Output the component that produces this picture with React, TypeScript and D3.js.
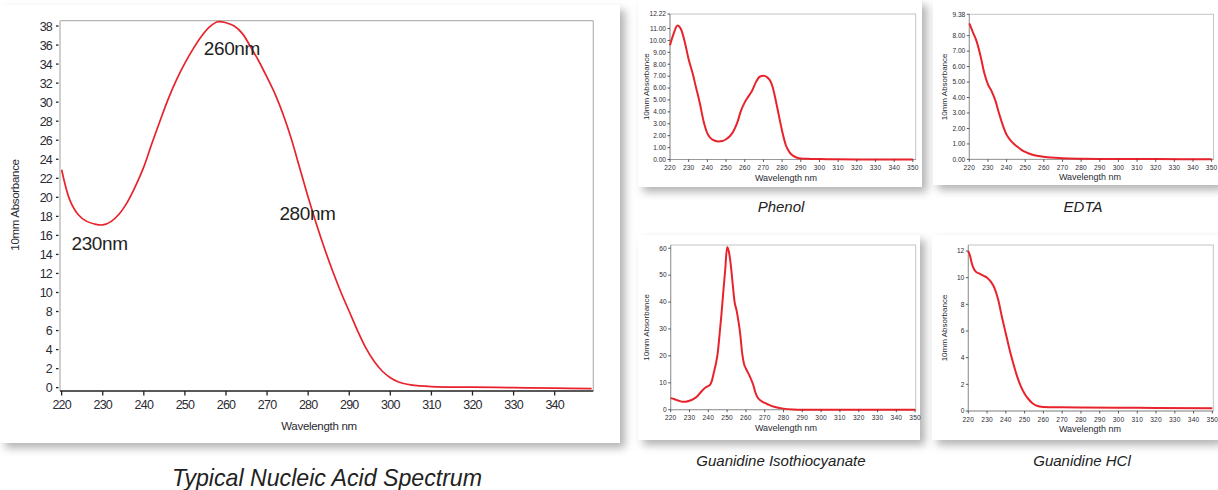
import React, { useEffect } from 'react'
import { scaleLinear, line, curveMonotoneX, curveCatmullRom, range } from 'd3'

const RED = '#e8232b'
const INK = '#2b2b33'

// Typical nucleic acid spectrum (big chart)
const mainWl = [220, 222, 224, 226, 228, 230, 232, 234, 236, 238, 240, 242, 244, 246, 248, 250, 252, 254, 256, 258, 260, 262, 264, 266, 268, 270, 272, 274, 276, 278, 280, 282, 284, 286, 288, 290, 292, 294, 296, 298, 300, 302, 305, 310, 320, 330, 340, 349]
const mainAbs = [22.9, 19.7, 18.2, 17.5, 17.2, 17.1, 17.45, 18.25, 19.5, 21.2, 23.2, 25.7, 28.1, 30.4, 32.4, 34.1, 35.6, 36.9, 37.9, 38.45, 38.35, 38.0, 37.2, 35.8, 34.3, 32.6, 30.8, 28.6, 26.0, 23.0, 20.0, 17.2, 14.6, 12.2, 10.0, 8.0, 6.0, 4.2, 2.8, 1.75, 1.05, 0.6, 0.3, 0.12, 0.05, 0.0, -0.05, -0.1]
const mainXTicks = range(220, 341, 10)
const mainYTicks = range(0, 39, 2)
const mainNotes = [
  { label: '260nm', wl: 254.6, abs: 35.0 },
  { label: '230nm', wl: 222.4, abs: 14.5 },
  { label: '280nm', wl: 273.0, abs: 17.6 },
]

// Phenol
const phenolWl = [220, 222, 224, 226, 228, 230, 232, 234, 236, 238, 240, 242, 244, 246, 248, 250, 252, 254, 256, 258, 260, 262, 264, 266, 268, 270, 272, 274, 275, 276, 278, 280, 282, 284, 286, 288, 290, 295, 300, 310, 320, 350]
const phenolAbs = [9.6, 10.6, 11.25, 10.9, 9.8, 8.4, 7.3, 6.0, 4.7, 3.2, 2.2, 1.75, 1.58, 1.52, 1.55, 1.7, 1.95, 2.4, 3.1, 4.1, 4.8, 5.3, 5.8, 6.5, 6.95, 7.03, 6.9, 6.5, 6.05, 5.4, 3.9, 2.4, 1.2, 0.6, 0.3, 0.15, 0.08, 0.05, 0.04, 0.02, 0.01, 0.0]
const phenolYTicks = [0, 1, 2, 3, 4, 5, 6, 7, 8, 9, 10, 11, 12.22]

// EDTA
const edtaWl = [220, 222, 224, 226, 228, 230, 232, 234, 236, 238, 240, 242, 244, 246, 248, 250, 252, 255, 258, 262, 266, 270, 280, 290, 300, 320, 350]
const edtaAbs = [8.8, 8.2, 7.6, 6.7, 5.6, 4.85, 4.4, 3.8, 2.95, 2.2, 1.6, 1.25, 1.0, 0.8, 0.62, 0.48, 0.38, 0.27, 0.2, 0.14, 0.1, 0.07, 0.04, 0.03, 0.03, 0.02, 0.01]
const edtaYTicks = [0, 1, 2, 3, 4, 5, 6, 7, 8, 9.38]

// Guanidine Isothiocyanate
const gitcWl = [220, 222, 224, 226, 228, 230, 232, 234, 236, 238, 240, 241, 242, 243, 244, 245, 246, 247, 248, 249, 250, 251, 252, 253, 254, 255, 256, 257, 258, 259, 260, 262, 264, 265, 266, 268, 270, 272, 275, 280, 285, 290, 350]
const gitcAbs = [4.3, 3.9, 3.4, 3.0, 3.0, 3.3, 3.9, 4.9, 6.5, 8.0, 8.8, 9.3, 11.0, 14.0, 17.0, 21.0, 28.0, 35.5, 44.0, 52.0, 60.5, 58.5, 53.5, 46.5, 40.0, 37.0, 33.0, 28.0, 21.0, 17.0, 15.3, 12.5, 9.0, 6.5, 4.8, 3.3, 2.5, 1.9, 1.1, 0.4, 0.1, 0.0, 0.0]
const gitcYTicks = range(0, 61, 10)

// Guanidine HCl
const ghclWl = [220, 221, 222, 223, 224, 226, 228, 230, 232, 234, 236, 238, 240, 242, 244, 246, 248, 250, 252, 254, 256, 258, 260, 270, 280, 300, 320, 350]
const ghclAbs = [12.0, 11.6, 11.0, 10.65, 10.45, 10.3, 10.15, 10.0, 9.7, 9.2, 8.3, 7.0, 5.8, 4.6, 3.55, 2.6, 1.85, 1.3, 0.9, 0.6, 0.42, 0.33, 0.3, 0.28, 0.27, 0.25, 0.23, 0.2]
const ghclYTicks = range(0, 13, 2)

const smallXTicks = range(220, 351, 10)

const FONT = '"Liberation Sans", Arial, sans-serif'
const NARROW = '"Liberation Sans Narrow", "Arial Narrow", "Liberation Sans", sans-serif'

function MainChart() {
  const box = { l: 60, r: 593.3, t: 20.7, b: 391 }
  const x = scaleLinear().domain([219.6, 349.4]).range([box.l, box.r])
  const y = scaleLinear().domain([-0.35, 38.56]).range([box.b, box.t])
  const path = line<number>()
    .x((d, i) => x(mainWl[i]))
    .y(d => y(d))
    .curve(curveCatmullRom.alpha(0.5))(mainAbs)

  return (
    <g>
      <rect x={0} y={5} width={620} height={438} fill="#fff" filter="url(#shadow)" />
      <line x1={box.l} x2={box.r} y1={box.t} y2={box.t} stroke="#b5b5b5" strokeWidth={1.2} />
      <line x1={box.r} x2={box.r} y1={box.t} y2={box.b} stroke="#b5b5b5" strokeWidth={1.2} />
      <line x1={box.l} x2={box.l} y1={box.t} y2={box.b} stroke="#cfcfcf" strokeWidth={2} />
      <path d={path || ''} fill="none" stroke={RED} strokeWidth={1.7} />
      <line x1={box.l} x2={box.r} y1={box.b} y2={box.b} stroke="#222" strokeWidth={1.6} />
      {mainYTicks.map(t => (
        <g key={t}>
          <line x1={box.l - 4} x2={box.l - 1.5} y1={y(t)} y2={y(t)} stroke="#222" strokeWidth={1.3} />
          <text x={box.l - 8} y={y(t)} dy="0.36em" textAnchor="end" fontSize={12.5} fill={INK} letterSpacing={-0.8}>{t}</text>
        </g>
      ))}
      {mainXTicks.map(t => (
        <g key={t}>
          <line x1={x(t)} x2={x(t)} y1={box.b} y2={box.b + 4.5} stroke="#222" strokeWidth={1.3} />
          <text x={x(t)} y={box.b + 18} textAnchor="middle" fontSize={12.5} fill={INK} letterSpacing={-0.8}>{t}</text>
        </g>
      ))}
      <text x={319} y={430} textAnchor="middle" fontSize={11.5} fill={INK} letterSpacing={-0.3}>Wavelength nm</text>
      <text transform="translate(19,205) rotate(-90)" textAnchor="middle" fontSize={11.5} fill={INK} letterSpacing={-0.3}>10mm Absorbance</text>
      {mainNotes.map(n => (
        <text key={n.label} x={x(n.wl)} y={y(n.abs)} fontSize={19} fill="#222" letterSpacing={-0.4}>{n.label}</text>
      ))}
      <text x={327} y={486} textAnchor="middle" fontSize={24} fontStyle="italic" fontFamily={NARROW} fill="#222" textLength={310} lengthAdjust="spacingAndGlyphs">Typical Nucleic Acid Spectrum</text>
    </g>
  )
}

type SmallProps = {
  wl: number[]
  abs: number[]
  panel: { x: number; y: number; w: number; h: number }
  box: { l: number; r: number; t: number; b: number }
  xMax: number
  yMax: number
  yTicks: number[]
  fmt: (v: number) => string
  yLabelX: number
  xLabelX: number
  caption: string
  captionX: number
  captionY: number
}

function SmallChart(p: SmallProps) {
  const { box } = p
  const x = scaleLinear().domain([220, p.xMax]).range([box.l, box.r])
  const y = scaleLinear().domain([0, p.yMax]).range([box.b, box.t])
  const path = line<number>()
    .x((d, i) => x(p.wl[i]))
    .y(d => y(d))
    .curve(curveMonotoneX)(p.abs)
  return (
    <g>
      <rect x={p.panel.x} y={p.panel.y} width={p.panel.w} height={p.panel.h} fill="#fff" filter="url(#shadow)" />
      <rect x={box.l} y={box.t} width={box.r - box.l} height={box.b - box.t} fill="none" stroke="#c4c4c4" strokeWidth={1} />
      <line x1={box.l} x2={box.l} y1={box.t} y2={box.b} stroke="#9a9a9a" strokeWidth={1} />
      <line x1={box.l} x2={box.r} y1={box.b} y2={box.b} stroke="#9a9a9a" strokeWidth={1} />
      <path d={path || ''} fill="none" stroke={RED} strokeWidth={2} />
      {p.yTicks.map(t => (
        <g key={t}>
          <line x1={box.l - 2.5} x2={box.l} y1={y(t)} y2={y(t)} stroke="#333" strokeWidth={0.8} />
          <text x={box.l - 4} y={y(t)} dy="0.35em" textAnchor="end" fontSize={6.6} fill={INK}>{p.fmt(t)}</text>
        </g>
      ))}
      {smallXTicks.map(t => (
        <g key={t}>
          <line x1={x(t)} x2={x(t)} y1={box.b} y2={box.b + 2.5} stroke="#333" strokeWidth={0.8} />
          <text x={x(t)} y={box.b + 10.5} textAnchor="middle" fontSize={6.6} fill={INK} letterSpacing={0.2}>{t}</text>
        </g>
      ))}
      <text x={p.xLabelX} y={box.b + 21} textAnchor="middle" fontSize={9} fill={INK}>Wavelength nm</text>
      <text transform={`translate(${p.yLabelX},${(box.t + box.b) / 2}) rotate(-90)`} textAnchor="middle" fontSize={8} fill={INK}>10mm Absorbance</text>
      <text x={p.captionX} y={p.captionY} textAnchor="middle" fontSize={15} fontStyle="italic" fontFamily={NARROW} fill="#222">{p.caption}</text>
    </g>
  )
}

export default function App() {
  useEffect(() => {
    document.body.style.margin = '0'
  }, [])
  const f2 = (v: number) => v.toFixed(2)
  const f0 = (v: number) => String(v)
  return (
    <svg width={1218} height={490} style={{ display: 'block', background: '#fff' }} fontFamily={FONT}>
      <defs>
        <filter id="shadow" x="-5%" y="-5%" width="115%" height="115%">
          <feDropShadow dx={5} dy={5} stdDeviation={4} floodColor="#000" floodOpacity={0.3} />
        </filter>
      </defs>
      <MainChart />
      <SmallChart wl={phenolWl} abs={phenolAbs} panel={{ x: 638, y: 0, w: 284, h: 187 }}
        box={{ l: 670, r: 915.7, t: 14, b: 159.5 }} xMax={351.5} yMax={12.22} yTicks={phenolYTicks} fmt={f2}
        yLabelX={649} xLabelX={786} caption="Phenol" captionX={781} captionY={212} />
      <SmallChart wl={edtaWl} abs={edtaAbs} panel={{ x: 933, y: 0, w: 285, h: 185 }}
        box={{ l: 969.3, r: 1213.5, t: 14.3, b: 159.4 }} xMax={351} yMax={9.38} yTicks={edtaYTicks} fmt={f2}
        yLabelX={947} xLabelX={1090} caption="EDTA" captionX={1083} captionY={212} />
      <SmallChart wl={gitcWl} abs={gitcAbs} panel={{ x: 638, y: 235, w: 282, h: 205 }}
        box={{ l: 670.7, r: 915.7, t: 245, b: 409.7 }} xMax={350.3} yMax={61.2} yTicks={gitcYTicks} fmt={f0}
        yLabelX={649} xLabelX={786} caption="Guanidine Isothiocyanate" captionX={781} captionY={466} />
      <SmallChart wl={ghclWl} abs={ghclAbs} panel={{ x: 932, y: 235, w: 286, h: 205 }}
        box={{ l: 968.3, r: 1213.3, t: 245, b: 411 }} xMax={350.5} yMax={12.45} yTicks={ghclYTicks} fmt={f0}
        yLabelX={947} xLabelX={1090} caption="Guanidine HCl" captionX={1082} captionY={466} />
    </svg>
  )
}
